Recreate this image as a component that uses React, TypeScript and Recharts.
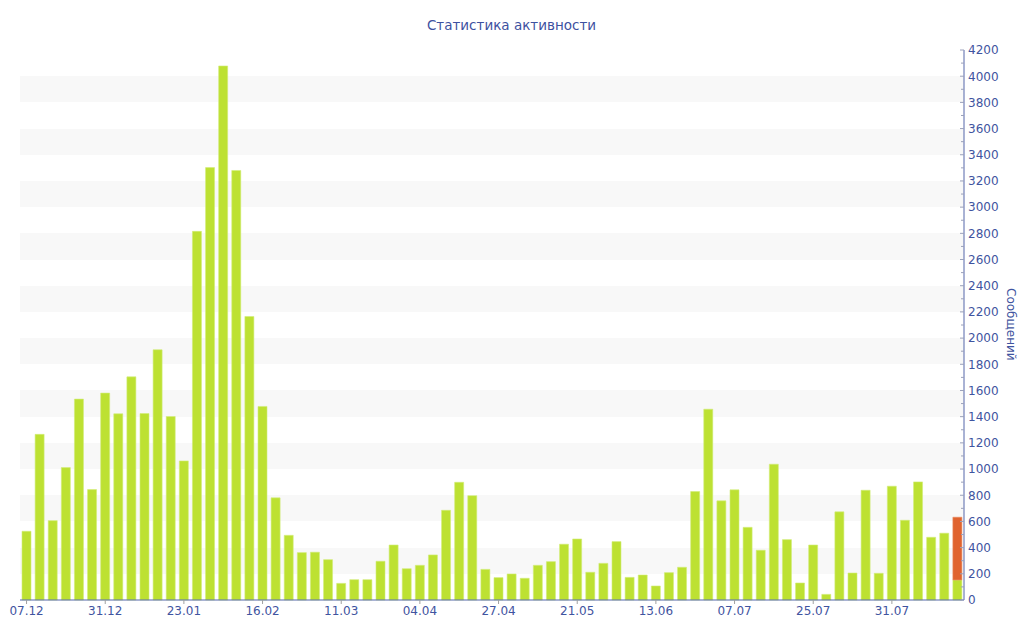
import { Bar, BarChart, CartesianGrid, XAxis, YAxis } from "recharts";

// 4-day bins, labels shown for every 6th bin
const tickLabels = [
  "07.12", "31.12", "23.01", "16.02", "11.03", "04.04",
  "27.04", "21.05", "13.06", "07.07", "25.07", "31.07",
];

// messages per bin (green part)
const messages = [
  525, 1265, 606, 1011, 1534, 843, 1580, 1422, 1704, 1424, 1911, 1401,
  1062, 2815, 3302, 4078, 3280, 2165, 1478, 780, 494, 362, 365, 308,
  127, 155, 155, 296, 420, 239, 265, 344, 685, 899, 797, 234,
  171, 199, 166, 265, 293, 426, 466, 212, 280, 446, 173, 191,
  107, 209, 250, 828, 1457, 757, 841, 555, 380, 1037, 461, 130,
  420, 43, 673, 206, 838, 204, 869, 609, 902, 479, 510, 153,
];

// orange part of the current (last) bin
const currentExtra = 479;

const yTicks = Array.from({ length: 43 }, (_, i) => i * 100);

const rows = messages.map((v, i) => ({
  idx: i,
  base: v,
  extra: i === messages.length - 1 ? currentExtra : 0,
}));

const FONT = "'DejaVu Sans', Verdana, sans-serif";
const TEXT = "#3f54a0";
const AXIS = "#5566aa";

function YTick(props: any) {
  const { x, y, payload } = props;
  const major = payload.value % 200 === 0;
  return (
    <g>
      <line x1={x - (major ? 4 : 3)} x2={x} y1={y} y2={y} stroke="#9aa0bb" />
      {major && (
        <text x={x + 4} y={y} dy="0.36em" fill={TEXT} fontSize={12} fontFamily={FONT} textAnchor="start">
          {payload.value}
        </text>
      )}
    </g>
  );
}

export default function App() {
  return (
    <div style={{ position: "absolute", left: 0, top: 0, width: 1024, height: 640, background: "#fff" }}>
      <div
        style={{
          position: "absolute",
          top: 17,
          left: 0,
          width: 1023,
          textAlign: "center",
          fontFamily: FONT,
          fontSize: 13.5,
          color: "#3d51a0",
        }}
      >
        Статистика активности
      </div>
      <div
        style={{
          position: "absolute",
          left: 1004,
          top: 288,
          writingMode: "vertical-rl",
          fontFamily: FONT,
          fontSize: 12,
          color: TEXT,
        }}
      >
        Сообщений
      </div>
      <BarChart
        width={1024}
        height={640}
        data={rows}
        margin={{ top: 50, right: 0, left: 20, bottom: 10 }}
        barCategoryGap={0}
      >
        <CartesianGrid
          vertical={false}
          stroke="none"
          horizontalFill={["#ffffff", "#ffffff", "#f8f8f8", "#f8f8f8"]}
          fillOpacity={1}
        />
        <XAxis
          dataKey="idx"
          interval={5}
          height={30}
          tickSize={4}
          tickMargin={2}
          tickLine={{ stroke: "#a0a0a0" }}
          axisLine={{ stroke: AXIS }}
          tick={{ fill: TEXT, fontSize: 12, fontFamily: FONT }}
          tickFormatter={(v) => tickLabels[Number(v) / 6] ?? ""}
        />
        <YAxis
          orientation="right"
          width={60}
          domain={[0, 4200]}
          ticks={yTicks}
          interval={0}
          tickSize={0}
          tickMargin={0}
          tickLine={false}
          axisLine={{ stroke: AXIS }}
          tick={<YTick />}
        />
        <Bar dataKey="base" stackId="a" fill="#bde132" stroke="#d2ec78" strokeWidth={0.6} barSize={9} isAnimationActive={false} />
        <Bar dataKey="extra" stackId="a" fill="#e0632f" stroke="#ea8a5e" strokeWidth={0.6} barSize={9} isAnimationActive={false} />
      </BarChart>
    </div>
  );
}
